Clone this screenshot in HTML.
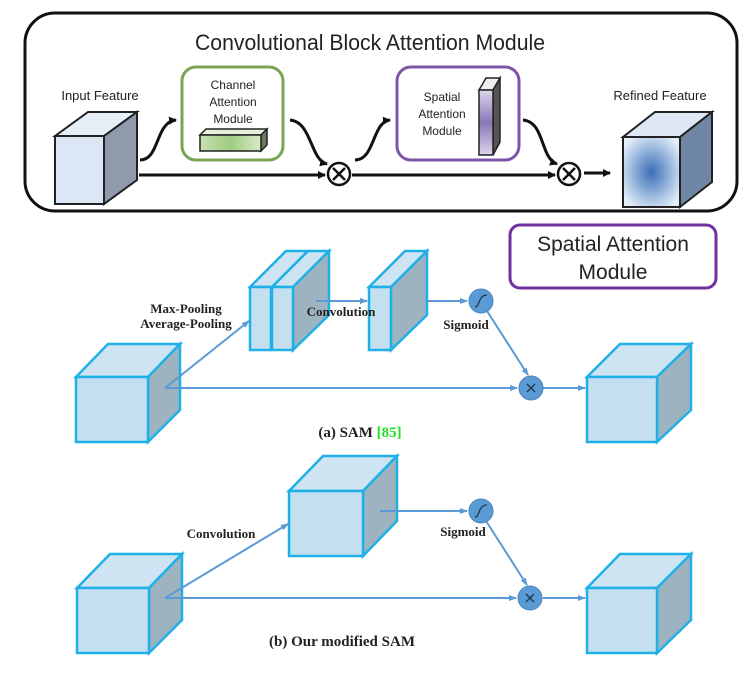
<!DOCTYPE html>
<html><head><meta charset="utf-8"><style>
html,body{margin:0;padding:0;background:#fff}
svg{display:block}
.s{font-family:"Liberation Sans",sans-serif;fill:#222}
.t{font-family:"Liberation Serif",serif;font-weight:bold;fill:#222}
</style></head><body>
<svg width="749" height="682" viewBox="0 0 749 682" xmlns="http://www.w3.org/2000/svg">
<defs>
<marker id="ab" markerWidth="8" markerHeight="8" refX="7" refY="4" orient="auto" markerUnits="userSpaceOnUse"><path d="M0,0 L8,4 L0,8 z" fill="#111"/></marker>
<marker id="bb" markerWidth="8" markerHeight="8" refX="7" refY="4" orient="auto" markerUnits="userSpaceOnUse"><path d="M0,1 L8,4 L0,7 z" fill="#5b9bd5"/></marker>
<radialGradient id="rg" cx="0.5" cy="0.5" r="0.6"><stop offset="0" stop-color="#3a6fb8"/><stop offset="1" stop-color="#e3eef8"/></radialGradient>
<linearGradient id="gb" x1="0" x2="1"><stop offset="0" stop-color="#c9e0b4"/><stop offset="0.5" stop-color="#9fcc80"/><stop offset="1" stop-color="#d8ebc8"/></linearGradient>
<linearGradient id="pb" x1="0" y1="0" x2="0" y2="1"><stop offset="0" stop-color="#dcd4ea"/><stop offset="0.5" stop-color="#8a78b8"/><stop offset="1" stop-color="#dcd4ea"/></linearGradient>
</defs>

<rect x="25" y="13" width="712" height="198" rx="30" fill="#fff" stroke="#111" stroke-width="3"/>
<text x="370" y="50" class="s" font-size="22" text-anchor="middle" textLength="350" lengthAdjust="spacingAndGlyphs">Convolutional Block Attention Module</text>
<text x="100" y="100" class="s" font-size="13" text-anchor="middle">Input Feature</text>
<polygon points="55,136 88,112 137,112 104,136" fill="#e6eef8" stroke="#222" stroke-width="2"/>
<polygon points="104,136 137,112 137,180 104,204" fill="#8f9bad" stroke="#222" stroke-width="2"/>
<rect x="55" y="136" width="49" height="68" fill="#dbe7f5" stroke="#222" stroke-width="2"/>
<rect x="182" y="67" width="101" height="93" rx="14" fill="#fff" stroke="#7aa454" stroke-width="3"/>
<text x="233" y="89" class="s" font-size="12" text-anchor="middle">Channel</text>
<text x="233" y="106" class="s" font-size="12" text-anchor="middle">Attention</text>
<text x="233" y="123" class="s" font-size="12" text-anchor="middle">Module</text>
<polygon points="200,135 206,129 267,129 261,135" fill="#e5f0da" stroke="#222" stroke-width="1.5"/>
<polygon points="261,135 267,129 267,145 261,151" fill="#6d7a62" stroke="#222" stroke-width="1.5"/>
<rect x="200" y="135" width="61" height="16" fill="url(#gb)" stroke="#222" stroke-width="1.5"/>
<rect x="397" y="67" width="122" height="93" rx="14" fill="#fff" stroke="#7d56a8" stroke-width="3"/>
<text x="442" y="101" class="s" font-size="12" text-anchor="middle">Spatial</text>
<text x="442" y="118" class="s" font-size="12" text-anchor="middle">Attention</text>
<text x="442" y="135" class="s" font-size="12" text-anchor="middle">Module</text>
<polygon points="479,90 486,78 500,78 493,90" fill="#eee" stroke="#222" stroke-width="1.5"/>
<polygon points="493,90 500,78 500,142 493,155" fill="#555" stroke="#222" stroke-width="1.5"/>
<rect x="479" y="90" width="14" height="65" fill="url(#pb)" stroke="#222" stroke-width="1.5"/>
<text x="660" y="100" class="s" font-size="13" text-anchor="middle">Refined Feature</text>
<polygon points="623,137 655,112 712,112 680,137" fill="#dde8f4" stroke="#222" stroke-width="2"/>
<polygon points="680,137 712,112 712,182 680,207" fill="#6f86a6" stroke="#222" stroke-width="2"/>
<rect x="623" y="137" width="57" height="70" fill="url(#rg)" stroke="#222" stroke-width="2"/>
<g stroke="#111" stroke-width="3" fill="none">
<line x1="139" y1="175" x2="325" y2="175" marker-end="url(#ab)"/>
<line x1="352" y1="175" x2="555" y2="175" marker-end="url(#ab)"/>
<line x1="584" y1="173" x2="610" y2="173" marker-end="url(#ab)"/>
<path d="M140,160 C160,160 155,122 176,120" marker-end="url(#ab)"/>
<path d="M290,120 C312,122 310,160 327,164" marker-end="url(#ab)"/>
<path d="M355,160 C375,160 372,122 390,120" marker-end="url(#ab)"/>
<path d="M523,120 C545,122 540,158 557,164" marker-end="url(#ab)"/>
</g>
<g fill="#fff" stroke="#111" stroke-width="2.5">
<circle cx="339" cy="174" r="11"/><circle cx="569" cy="174" r="11"/>
</g>
<g stroke="#111" stroke-width="2.5">
<line x1="333" y1="168" x2="345" y2="180"/><line x1="345" y1="168" x2="333" y2="180"/>
<line x1="563" y1="168" x2="575" y2="180"/><line x1="575" y1="168" x2="563" y2="180"/>
</g>

<rect x="510" y="225" width="206" height="63" rx="10" fill="#fff" stroke="#7030a0" stroke-width="3"/>
<text x="613" y="251" class="s" font-size="21" text-anchor="middle">Spatial Attention</text>
<text x="613" y="279" class="s" font-size="21" text-anchor="middle">Module</text>

<g stroke="#1fb0e8" stroke-width="2.5">
<polygon points="76,377 108,344 180,344 148,377" fill="#cfe4f3"/>
<polygon points="148,377 180,344 180,410 148,442" fill="#9db3bf"/>
<rect x="76" y="377" width="72" height="65" fill="#c3dff0"/>
<polygon points="250,287 286,251 308,251 272,287" fill="#cfe4f3"/>
<rect x="250" y="287" width="21" height="63" fill="#c3dff0"/>
<polygon points="272,287 308,251 329,251 293,287" fill="#cfe4f3"/>
<polygon points="293,287 329,251 329,315 293,350" fill="#9db3bf"/>
<rect x="272" y="287" width="21" height="63" fill="#c3dff0"/>
<polygon points="369,287 405,251 427,251 391,287" fill="#cfe4f3"/>
<polygon points="391,287 427,251 427,315 391,350" fill="#9db3bf"/>
<rect x="369" y="287" width="22" height="63" fill="#c3dff0"/>
<polygon points="587,377 620,344 691,344 657,377" fill="#cfe4f3"/>
<polygon points="657,377 691,344 691,410 657,442" fill="#9db3bf"/>
<rect x="587" y="377" width="70" height="65" fill="#c3dff0"/>
</g>
<g stroke="#5b9bd5" stroke-width="2" fill="none">
<line x1="165" y1="388" x2="517" y2="388" marker-end="url(#bb)"/>
<line x1="165" y1="388" x2="249" y2="321" marker-end="url(#bb)"/>
<line x1="316" y1="301" x2="367" y2="301" marker-end="url(#bb)"/>
<line x1="427" y1="301" x2="467" y2="301" marker-end="url(#bb)"/>
<line x1="487" y1="311" x2="528" y2="375" marker-end="url(#bb)"/>
<line x1="543" y1="388" x2="585" y2="388" marker-end="url(#bb)"/>
</g>
<circle cx="481" cy="301" r="12" fill="#5b9bd5" stroke="#4a86c0"/>
<path d="M475,307 C480,307 478,295 487,295" stroke="#234" stroke-width="1.3" fill="none"/>
<circle cx="531" cy="388" r="12" fill="#5b9bd5" stroke="#4a86c0"/>
<path d="M527,384 L535,392 M535,384 L527,392" stroke="#234" stroke-width="1.3"/>
<text x="186" y="313" class="t" font-size="13" text-anchor="middle">Max-Pooling</text>
<text x="186" y="328" class="t" font-size="13" text-anchor="middle">Average-Pooling</text>
<text x="341" y="316" class="t" font-size="13" text-anchor="middle">Convolution</text>
<text x="466" y="329" class="t" font-size="13" text-anchor="middle">Sigmoid</text>
<text x="360" y="437" class="t" font-size="15" text-anchor="middle">(a) SAM <tspan fill="#22dd22">[85]</tspan></text>

<g stroke="#1fb0e8" stroke-width="2.5">
<polygon points="77,588 110,554 182,554 149,588" fill="#cfe4f3"/>
<polygon points="149,588 182,554 182,620 149,653" fill="#9db3bf"/>
<rect x="77" y="588" width="72" height="65" fill="#c3dff0"/>
<polygon points="289,491 323,456 397,456 363,491" fill="#cfe4f3"/>
<polygon points="363,491 397,456 397,521 363,556" fill="#9db3bf"/>
<rect x="289" y="491" width="74" height="65" fill="#c3dff0"/>
<polygon points="587,588 620,554 691,554 657,588" fill="#cfe4f3"/>
<polygon points="657,588 691,554 691,620 657,653" fill="#9db3bf"/>
<rect x="587" y="588" width="70" height="65" fill="#c3dff0"/>
</g>
<g stroke="#5b9bd5" stroke-width="2" fill="none">
<line x1="165" y1="598" x2="516" y2="598" marker-end="url(#bb)"/>
<line x1="165" y1="598" x2="288" y2="524" marker-end="url(#bb)"/>
<line x1="380" y1="511" x2="467" y2="511" marker-end="url(#bb)"/>
<line x1="486" y1="521" x2="527" y2="585" marker-end="url(#bb)"/>
<line x1="543" y1="598" x2="585" y2="598" marker-end="url(#bb)"/>
</g>
<circle cx="481" cy="511" r="12" fill="#5b9bd5" stroke="#4a86c0"/>
<path d="M475,517 C480,517 478,505 487,505" stroke="#234" stroke-width="1.3" fill="none"/>
<circle cx="530" cy="598" r="12" fill="#5b9bd5" stroke="#4a86c0"/>
<path d="M526,594 L534,602 M534,594 L526,602" stroke="#234" stroke-width="1.3"/>
<text x="221" y="538" class="t" font-size="13" text-anchor="middle">Convolution</text>
<text x="463" y="536" class="t" font-size="13" text-anchor="middle">Sigmoid</text>
<text x="342" y="646" class="t" font-size="15" text-anchor="middle">(b) Our modified SAM</text>
</svg>
</body></html>
